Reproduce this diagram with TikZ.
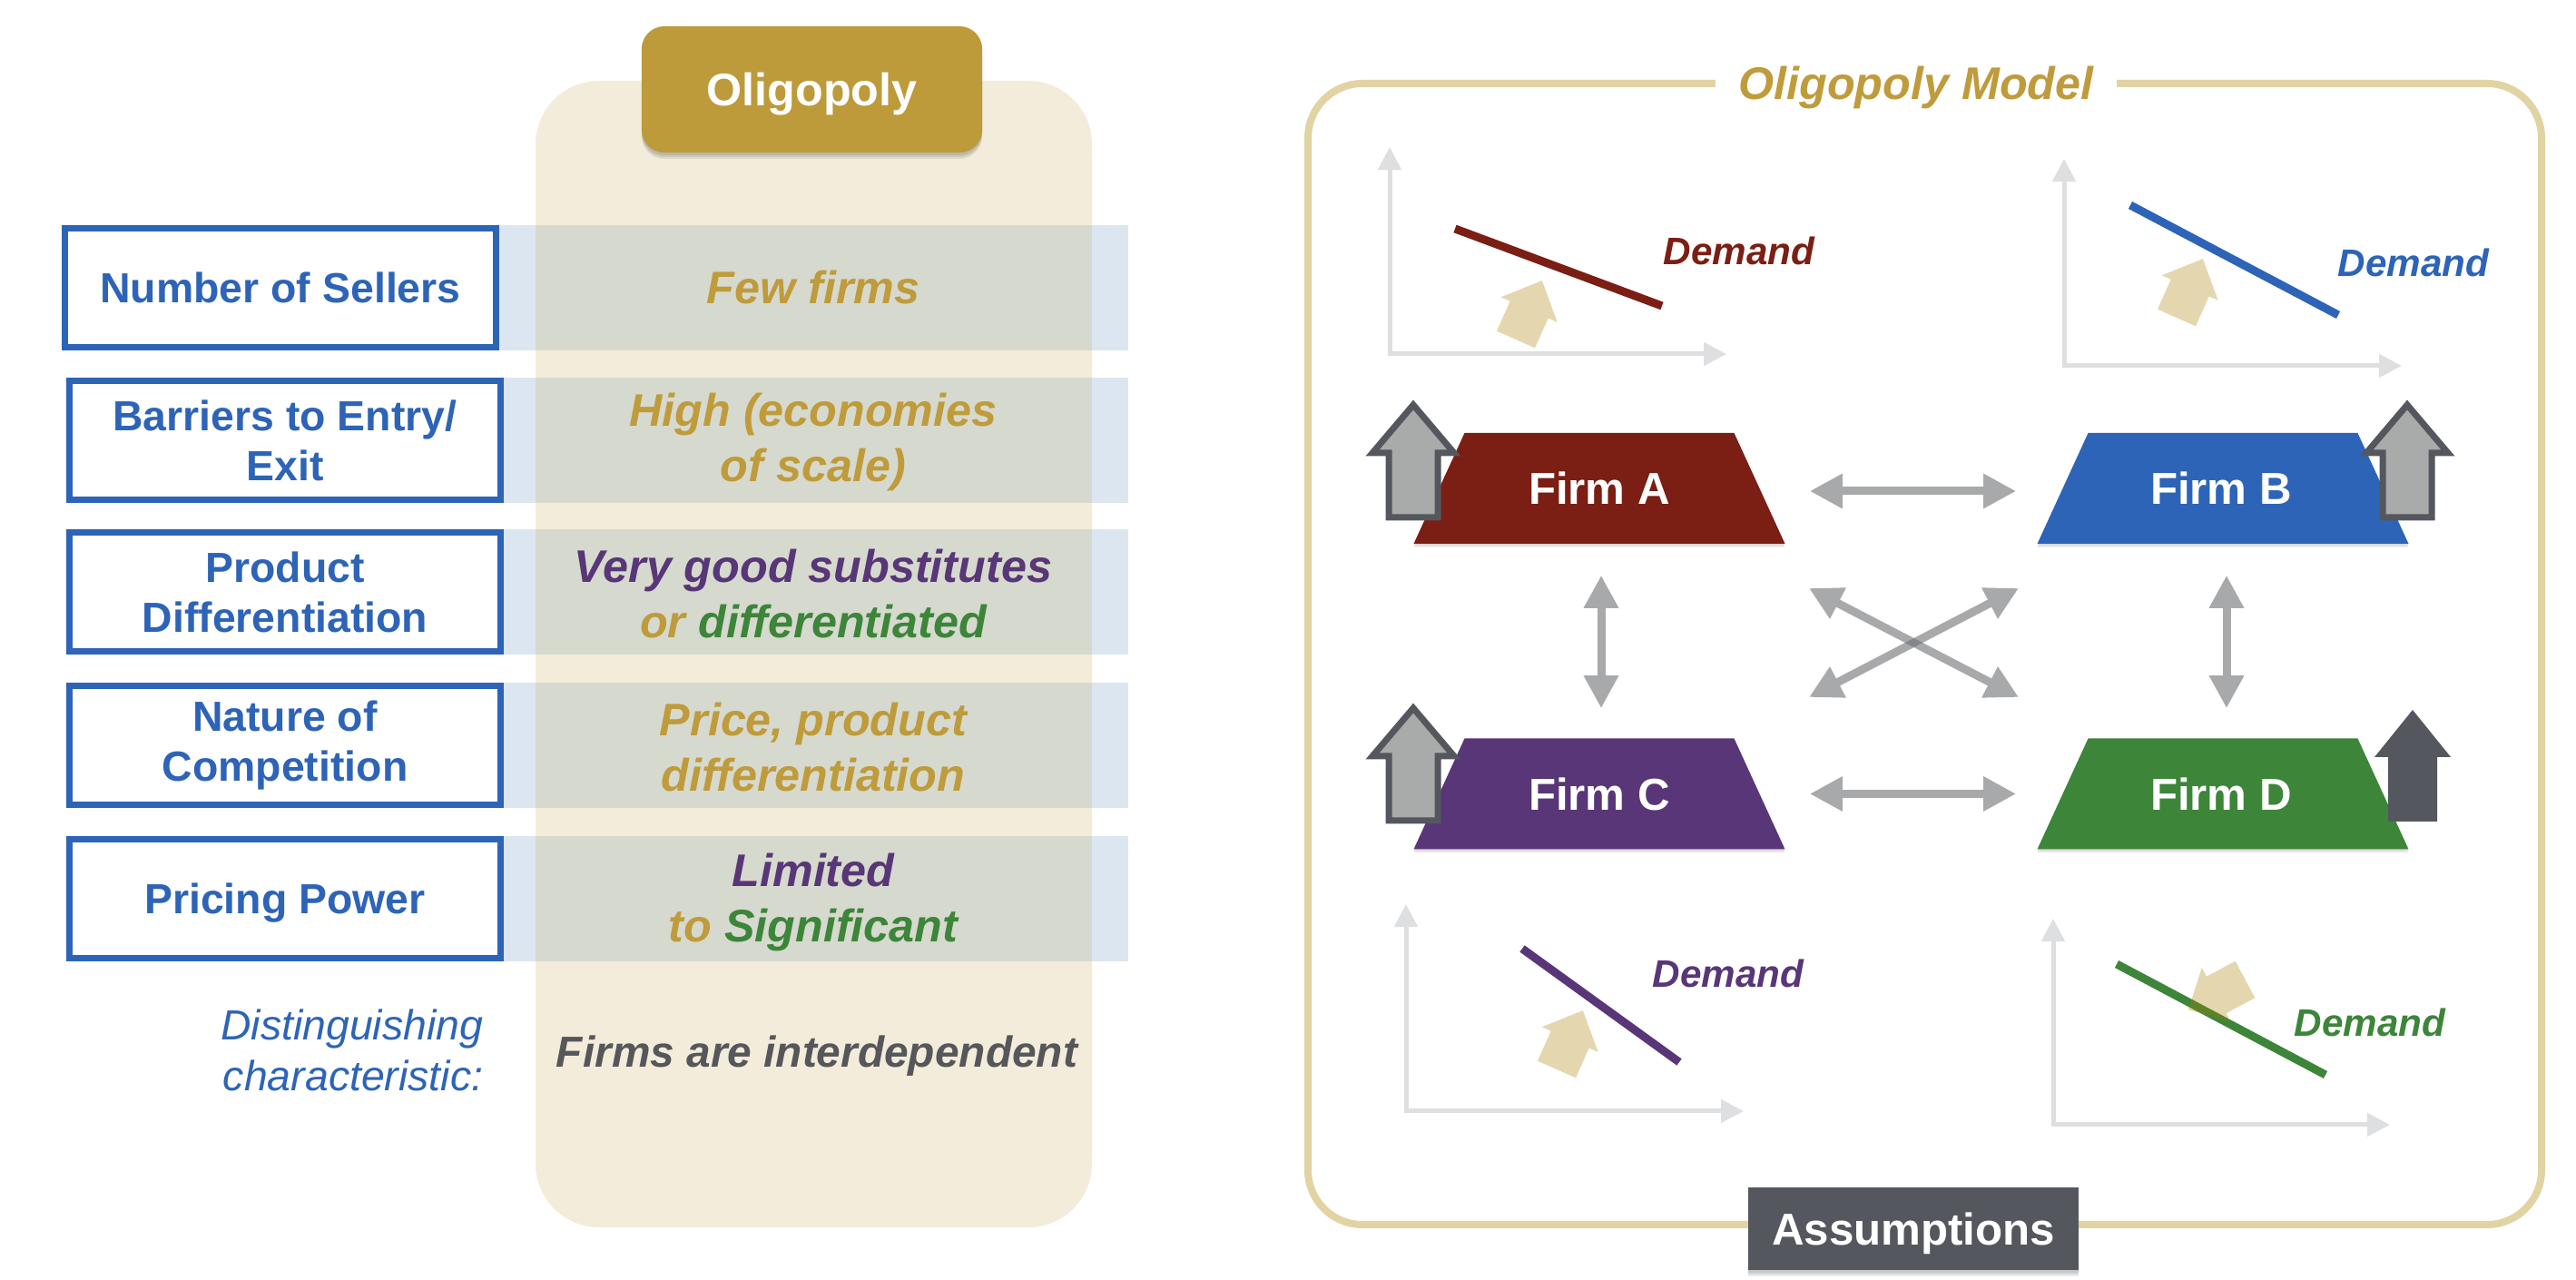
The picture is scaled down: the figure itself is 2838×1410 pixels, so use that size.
\documentclass[tikz,border=0pt]{standalone}
\usepackage{fontspec}
\setmainfont{Liberation Sans}
\usetikzlibrary{arrows.meta}
\definecolor{myblue}{HTML}{2D64B7}
\definecolor{gold}{HTML}{BF9B3B}
\definecolor{headgold}{HTML}{BD9A3A}
\definecolor{colbeige}{HTML}{F3ECDA}
\definecolor{bandblue}{HTML}{DCE6F1}
\definecolor{bandmix}{HTML}{D6D9CE}
\definecolor{framegold}{HTML}{E2D3A3}
\definecolor{firmred}{HTML}{7B1E13}
\definecolor{firmpurple}{HTML}{583677}
\definecolor{firmgreen}{HTML}{3C8539}
\definecolor{darkgray}{HTML}{54575E}
\definecolor{arrgray}{HTML}{A8A9AB}
\definecolor{arrdark}{HTML}{6E7073}
\definecolor{lightfill}{HTML}{A9AAAA}
\definecolor{axisgray}{HTML}{DEDFE1}
\definecolor{shiftfill}{HTML}{AB7E00}
\definecolor{textgray}{HTML}{55575B}
\newcommand\lblfont{\fontsize{13.2pt}{15.6pt}\selectfont\bfseries}
\newcommand\valfont{\fontsize{14.3pt}{17.1pt}\selectfont\bfseries\itshape}
\newcommand\mytrap[3]{\fill[#3] (#1-148.5,#2-61) -- (#1+148.5,#2-61) -- (#1+204.5,#2+61) -- (#1-204.5,#2+61) -- cycle;}
\newcommand\upblock[2]{\draw[firmup] (#1,#2) -- (#1+45,#2+53) -- (#1+27,#2+53) -- (#1+27,#2+124) -- (#1-27,#2+124) -- (#1-27,#2+53) -- (#1-45,#2+53) -- cycle;}
\newcommand\shiftarrow[3]{\fill[shiftfill, fill opacity=0.31, shift={(#1,#2)}, rotate=#3] (-23,0) -- (-23,-36) -- (-34,-36) -- (0,-71) -- (34,-36) -- (23,-36) -- (23,0) -- cycle;}
\begin{document}
\begin{tikzpicture}[x=0.01cm,y=-0.01cm,
  lbl/.style={draw=myblue, line width=0.07cm, fill=white, text=myblue, font=\lblfont, align=center, minimum width=4.75cm, minimum height=1.31cm, inner sep=0pt},
  val/.style={font=\valfont, align=center, text=gold},
  firmlbl/.style={text=white, font=\fontsize{14pt}{16pt}\selectfont\bfseries, minimum width=3.5cm, minimum height=1.22cm, inner sep=0pt},
  demlbl/.style={font=\fontsize{12pt}{14pt}\selectfont\bfseries\itshape, anchor=base west, inner sep=0pt},
  axis/.style={draw=axisgray, line width=0.05cm, {Triangle[length=0.25cm,width=0.25cm]}-{Triangle[length=0.25cm,width=0.25cm]}},
  demline/.style={line width=0.09cm},
  dbl/.style={line width=0.09cm, {Triangle[length=0.36cm,width=0.36cm]}-{Triangle[length=0.36cm,width=0.36cm]}},
  firmup/.style={draw=darkgray, fill=lightfill, line width=0.07cm, miter limit=10},
  shadowed/.style={black, opacity=0.08}
]
\useasboundingbox (0,0) rectangle (2838,1410);
\fill[white] (0,0) rectangle (2838,1410);

% ---------- left panel ----------
\fill[colbeige, rounded corners=0.7cm] (590,89) rectangle (1203,1352);
\foreach \t/\b/\l in {248/386/550, 416/554/555, 583/721/555, 752/890/555, 921/1059/555} {
  \fill[bandblue] (\l,\t) rectangle (1243,\b);
  \fill[bandmix] (590,\t) rectangle (1203,\b);
}
\foreach \s in {3,5,7} {
  \fill[shadowed, rounded corners=0.25cm] (707,29+\s) rectangle (1082,168+\s);
}
\node[fill=headgold, rounded corners=0.25cm, minimum width=3.75cm, minimum height=1.39cm, inner sep=0pt, text=white, text depth=0pt, font=\fontsize{14.3pt}{16pt}\selectfont\bfseries] (hdr) at (894.5,98.5) {Oligopoly};

\node[lbl] (r1) at (309,317) {Number of Sellers};
\node[lbl] (r2) at (314,485) {Barriers to Entry/\\Exit};
\node[lbl] (r3) at (314,652) {Product\\Differentiation};
\node[lbl] (r4) at (314,821) {Nature of\\Competition};
\node[lbl, text depth=0pt] (r5) at (314,990) {Pricing Power};

\node[val] (v1) at (896,317) {Few firms};
\node[val] (v2) at (896,487) {High (economies\\of scale)};
\node[val] (v3) at (896,654) {\textcolor{firmpurple}{Very good substitutes}\\or \textcolor{firmgreen}{differentiated}};
\node[val] (v4) at (896,823) {Price, product\\differentiation};
\node[val] (v5) at (896,994) {\textcolor{firmpurple}{Limited}\\to \textcolor{firmgreen}{Significant}};

\node[anchor=east, align=right, text=myblue, inner sep=0pt, font=\fontsize{13.2pt}{15.9pt}\selectfont\itshape] (dist) at (533,1157) {Distinguishing\\characteristic:};
\node[text=textgray, text depth=0pt, font=\fontsize{13.6pt}{16pt}\selectfont\bfseries\itshape] (interdep) at (900,1158) {Firms are interdependent};

% ---------- right panel ----------
\draw[framegold, line width=0.08cm, rounded corners=0.6cm] (1441,92) rectangle (2800,1349);
\node[fill=white, inner xsep=0.25cm, inner ysep=0.05cm, text=gold, text depth=0pt, font=\fontsize{14.3pt}{16pt}\selectfont\bfseries\itshape] (title) at (2111,91) {Oligopoly Model};
\foreach \s in {3,5,7} {
  \fill[shadowed] (1926,1308+\s) rectangle (2290,1399+\s);
}
\node[fill=darkgray, text=white, minimum width=3.64cm, minimum height=0.91cm, inner sep=0pt, text depth=0pt, font=\fontsize{14pt}{16pt}\selectfont\bfseries] (assum) at (2108,1353.5) {Assumptions};

% demand graphs
\draw[axis] (1531,162) -- (1531,390) -- (1902,390);
\draw[axis] (2274,175) -- (2274,403) -- (2646,403);
\draw[axis] (1549,996) -- (1549,1224) -- (1921,1224);
\draw[axis] (2262,1012) -- (2262,1239) -- (2633,1239);

\shiftarrow{1670}{374}{-24}
\shiftarrow{2398}{350}{-24}
\shiftarrow{1715}{1178}{-24}

\draw[demline, firmred] (1603,252) -- (1831,337);
\draw[demline, myblue] (2347,226) -- (2576,347);
\draw[demline, firmpurple] (1677,1045) -- (1850,1170);
\draw[demline, firmgreen] (2332,1062) -- (2562,1184);
\shiftarrow{2473.5}{1079}{118}

\node[demlbl, text=firmred] (dA) at (1832,292) {Demand};
\node[demlbl, text=myblue] (dB) at (2575,305) {Demand};
\node[demlbl, text=firmpurple] (dC) at (1820,1088) {Demand};
\node[demlbl, text=firmgreen] (dD) at (2527,1142) {Demand};

% firms
\foreach \s in {2,4} {
  \mytrap{1762}{538+\s}{shadowed}
  \mytrap{2449}{538+\s}{shadowed}
  \mytrap{1762}{874.5+\s}{shadowed}
  \mytrap{2449}{874.5+\s}{shadowed}
}
\mytrap{1762}{538}{firmred}
\mytrap{2449}{538}{myblue}
\mytrap{1762}{874.5}{firmpurple}
\mytrap{2449}{874.5}{firmgreen}
\node[firmlbl] (fA) at (1762,538) {Firm A};
\node[firmlbl] (fB) at (2447,538) {Firm B};
\node[firmlbl] (fC) at (1762,874.5) {Firm C};
\node[firmlbl] (fD) at (2447,874.5) {Firm D};

\upblock{1557}{446}
\upblock{2652}{446}
\upblock{1557}{780}
\fill[darkgray] (2658,782) -- (2700,834) -- (2685,834) -- (2685,905) -- (2631,905) -- (2631,834) -- (2616,834) -- cycle;

% interactions
\draw[dbl, arrgray, shorten <=0.56cm, shorten >=0.50cm] ([yshift=-0.03cm]fA.east) -- ([yshift=-0.03cm]fB.west);
\draw[dbl, arrgray, shorten <=0.56cm, shorten >=0.50cm] (fC.east) -- (fD.west);
\draw[dbl, arrgray, shorten <=0.34cm, shorten >=0.325cm] ([xshift=0.02cm]fA.south) -- ([xshift=0.02cm]fC.north);
\draw[dbl, arrgray, shorten <=0.34cm, shorten >=0.325cm] ([xshift=0.06cm]fB.south) -- ([xshift=0.06cm]fD.north);
\coordinate (x1) at (1993,648);
\coordinate (x2) at (2224,768);
\coordinate (x3) at (2224,648);
\coordinate (x4) at (1993,768);
\begin{scope}[transparency group, opacity=0.6]
  \draw[dbl, arrdark] (x1) -- (x2);
\end{scope}
\begin{scope}[transparency group, opacity=0.6]
  \draw[dbl, arrdark] (x3) -- (x4);
\end{scope}
\end{tikzpicture}
\end{document}
